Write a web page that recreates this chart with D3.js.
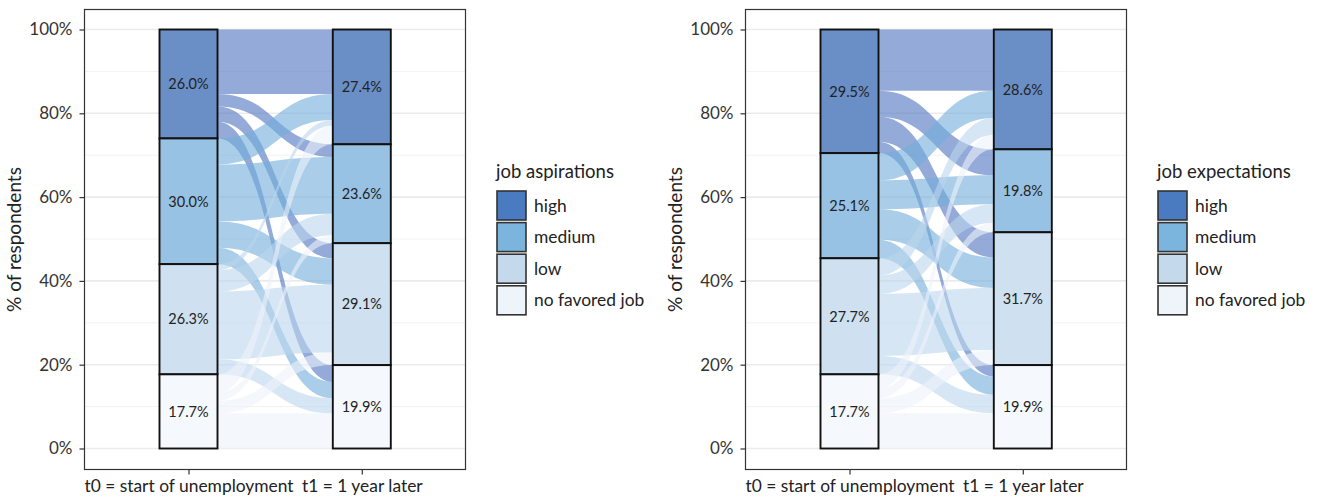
<!DOCTYPE html>
<html><head><meta charset="utf-8">
<script src="https://cdn.jsdelivr.net/npm/d3@7"></script>
<style>body{margin:0;background:#fff} text{font-family:Lato,'Open Sans',sans-serif}</style>
</head><body><svg id="c" width="1317" height="500"></svg>
<script>
const levels = ["high", "medium", "low", "no favored job"];
const timeLabels = ["t0 = start of unemployment", "t1 = 1 year later"];
const yTicks = [0, 20, 40, 60, 80, 100];
const yMinor = [10, 30, 50, 70, 90];
const aspT0 = [26.0, 30.0, 26.3, 17.7];
const aspT1 = [27.4, 23.6, 29.1, 19.9];
// rows: stratum at t0, columns: stratum at t1 (% of respondents)
const aspFlows = [
  [15.4, 3.0, 3.6, 4.0],
  [6.2, 13.6, 6.3, 3.9],
  [1.4, 5.1, 16.2, 3.6],
  [4.4, 1.9, 3.0, 8.4]
];
const expT0 = [29.5, 25.1, 27.7, 17.7];
const expT1 = [28.6, 19.8, 31.7, 19.9];
const expFlows = [
  [14.6, 6.2, 6.0, 2.7],
  [6.5, 6.9, 7.3, 4.4],
  [4.1, 4.4, 14.8, 4.4],
  [3.4, 2.3, 3.6, 8.4]
];
const legendTitles = ["job aspirations", "job expectations"];

const keyColors = ["#4A7BC1", "#7BB4DC", "#C4D9EC", "#EFF4FA"];
const stratumColors = ["#6A8EC6", "#98C2E3", "#CFE1F0", "#F5F8FC"];
const flowColors = ["#4C72BE", "#72AEDB", "#BCD6EC", "#EDF2FA"];

const svg = d3.select("#c");
const panels = [
  {dx: 0, t0: aspT0, t1: aspT1, flows: aspFlows, title: legendTitles[0]},
  {dx: 661, t0: expT0, t1: expT1, flows: expFlows, title: legendTitles[1]}
];
const y = d3.scaleLinear().domain([0, 100]).range([448.5, 29.5]);
const cat = d3.scaleOrdinal().domain(levels).range(keyColors);

panels.forEach(p => {
  const g = svg.append("g").attr("transform", `translate(${p.dx},0)`);
  const L = 84.5, R = 465.5, T = 9.5, B = 469.5;
  const x = d3.scalePoint().domain(timeLabels).range([188.5, 361.8]);
  const bw = 58;
  // grid
  g.selectAll(".gmin").data(yMinor).join("line")
    .attr("x1", L).attr("x2", R).attr("y1", d => y(d)).attr("y2", d => y(d))
    .attr("stroke", "#F2F2F2").attr("stroke-width", 1);
  g.selectAll(".gmaj").data(yTicks).join("line")
    .attr("x1", L).attr("x2", R).attr("y1", d => y(d)).attr("y2", d => y(d))
    .attr("stroke", "#EBEBEB").attr("stroke-width", 1.6);

  // flows
  const x0 = x(timeLabels[0]) + bw / 2, x1 = x(timeLabels[1]) - bw / 2;
  const n = levels.length;
  const flowsData = [];
  const topT0 = levels.map((_, i) => 100 - d3.sum(p.t0.slice(0, i)));
  const topT1 = levels.map((_, j) => 100 - d3.sum(p.t1.slice(0, j)));
  const curT0 = topT0.slice(), curT1 = topT1.slice();
  for (let i = 0; i < n; i++) {
    for (let j = 0; j < n; j++) {
      const v = p.flows[i][j];
      const a1 = curT0[i], a2 = a1 - v; curT0[i] = a2;
      flowsData.push({i, j, v, a1, a2});
    }
  }
  for (let j = 0; j < n; j++) {
    for (let i = 0; i < n; i++) {
      const f = flowsData.find(d => d.i === i && d.j === j);
      f.b1 = curT1[j]; f.b2 = f.b1 - f.v; curT1[j] = f.b2;
    }
  }
  const xm = (x0 + x1) / 2;
  const path = f => {
    const ya1 = y(f.a1), ya2 = y(f.a2), yb1 = y(f.b1), yb2 = y(f.b2);
    return `M${x0},${ya1}C${xm},${ya1} ${xm},${yb1} ${x1},${yb1}` +
      `L${x1},${yb2}C${xm},${yb2} ${xm},${ya2} ${x0},${ya2}Z`;
  };
  g.selectAll(".flow").data(flowsData).join("path")
    .attr("d", path).attr("fill", d => flowColors[d.i]).attr("fill-opacity", 0.6);

  // strata
  [p.t0, p.t1].forEach((vals, k) => {
    let top = 100;
    vals.forEach((v, i) => {
      const cx = x(timeLabels[k]);
      g.append("rect").attr("x", cx - bw / 2).attr("y", y(top)).attr("width", bw)
        .attr("height", y(top - v) - y(top)).attr("fill", stratumColors[i])
        .attr("stroke", "#111").attr("stroke-width", 1.9);
      g.append("text").attr("x", cx).attr("y", y(top - v / 2)).attr("dy", "0.36em")
        .attr("text-anchor", "middle").attr("font-size", 14.5).attr("fill", "#222")
        .text(v.toFixed(1) + "%");
      top -= v;
    });
  });

  // panel border
  g.append("rect").attr("x", L).attr("y", T).attr("width", R - L).attr("height", B - T)
    .attr("fill", "none").attr("stroke", "#333").attr("stroke-width", 1.2);

  // axes
  const ya = g.append("g").attr("transform", `translate(${L},0)`)
    .call(d3.axisLeft(y).tickValues(yTicks).tickFormat(d => d + "%").tickSize(5).tickPadding(7));
  ya.select(".domain").remove();
  ya.selectAll("line").attr("stroke", "#333").attr("stroke-width", 1.2);
  ya.selectAll("text").attr("font-size", 17).attr("fill", "#333").attr("font-family", "Lato");
  const xa = g.append("g").attr("transform", `translate(0,${B})`)
    .call(d3.axisBottom(x).tickSize(5).tickPadding(5));
  xa.select(".domain").remove();
  xa.selectAll("line").attr("stroke", "#333").attr("stroke-width", 1.2);
  xa.selectAll("text").attr("font-size", 17.4).attr("fill", "#222").attr("font-family", "Lato");

  g.append("text").attr("transform", `translate(21,${(T + B) / 2}) rotate(-90)`)
    .attr("text-anchor", "middle").attr("font-size", 19).attr("fill", "#222")
    .text("% of respondents");

  // legend
  const lg = g.append("g").attr("transform", "translate(497,0)");
  lg.append("text").attr("x", -1).attr("y", 178).attr("font-size", 18.5).attr("fill", "#222").text(p.title);
  levels.forEach((lv, i) => {
    const ky = 191 + i * 31.6;
    lg.append("rect").attr("x", 0).attr("y", ky).attr("width", 29).attr("height", 29)
      .attr("fill", cat(lv)).attr("stroke", "#333").attr("stroke-width", 1.6);
    lg.append("text").attr("x", 37).attr("y", ky + 14.5).attr("dy", "0.35em")
      .attr("font-size", 17.4).attr("fill", "#222").text(lv);
  });
});
</script></body></html>
